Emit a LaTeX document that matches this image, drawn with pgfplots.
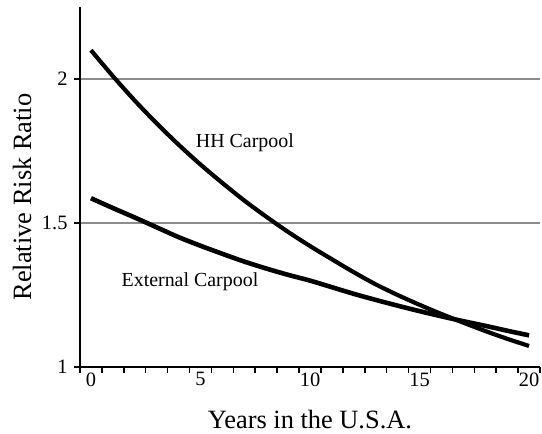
\documentclass[border=0pt]{standalone}
\usepackage{fontspec}
\setmainfont{Liberation Serif}
\usepackage{pgfplots}
\pgfplotsset{compat=1.18}
\begin{document}
\begin{tikzpicture}
\begin{axis}[name=ax, scale only axis, width=460bp, height=360bp,
  xmin=-0.5, xmax=20.5, ymin=1, ymax=2.25,
  axis x line=bottom, axis y line=left,
  axis line style={-, line width=1.9bp, black},
  tick align=outside, major tick length=6bp,
  every tick/.style={black, line width=1.5bp},
  xtick={-0.5,0.5,1.5,2.5,3.5,4.5,5.5,6.5,7.5,8.5,9.5,10.5,11.5,12.5,13.5,14.5,15.5,16.5,17.5,18.5,19.5,20.5},
  xticklabels={},
  extra x ticks={0,5,10,15,20},
  extra x tick labels={0,5,10,15,20},
  extra x tick style={major tick length=0bp, tick label style={yshift=-2bp}},
  ytick={1,1.5,2},
  yticklabel style={xshift=-3bp},
  ymajorgrids, grid style={black!45, line width=2bp},
  /pgf/number format/assume math mode=true,
  tick label style={font=\fontsize{20.5}{20.5}\selectfont},
  xlabel={Years in the U.S.A.},
  ylabel={Relative Risk Ratio},
  label style={font=\fontsize{26.5}{26.5}\selectfont},
  xlabel style={at={(axis description cs:0.5,-0.147)}, anchor=center},
  ylabel style={at={(axis description cs:-0.126,0.472)}, anchor=center},
  clip=false,
]
\addplot[black, line width=4.2bp, smooth] coordinates {
(0,2.100) (1,2.010) (2,1.925) (3,1.846) (4,1.772) (5,1.703) (6,1.639) (7,1.578) (8,1.522) (9,1.469) (10,1.420) (11,1.374) (12,1.329) (13,1.287) (14,1.250) (15,1.216) (16,1.184) (17,1.154) (18,1.125) (19,1.098) (20,1.073)
};
\addplot[black, line width=4.6bp, smooth] coordinates {
(0,1.586) (1,1.552) (2,1.519) (3,1.485) (4,1.451) (5,1.421) (6,1.393) (7,1.366) (8,1.342) (9,1.320) (10,1.300) (11,1.277) (12,1.254) (13,1.233) (14,1.213) (15,1.194) (16,1.176) (17,1.159) (18,1.143) (19,1.126) (20,1.110)
};
\node[font=\fontsize{20}{20}\selectfont] at (axis cs:7.03,1.778) {HH Carpool};
\node[font=\fontsize{20}{20}\selectfont] at (axis cs:4.52,1.296) {External Carpool};
\end{axis}
\pgfresetboundingbox
\path ([shift={(-80bp,-67bp)}]ax.south west) rectangle ([shift={(2bp,7bp)}]ax.north east);
\end{tikzpicture}
\end{document}
